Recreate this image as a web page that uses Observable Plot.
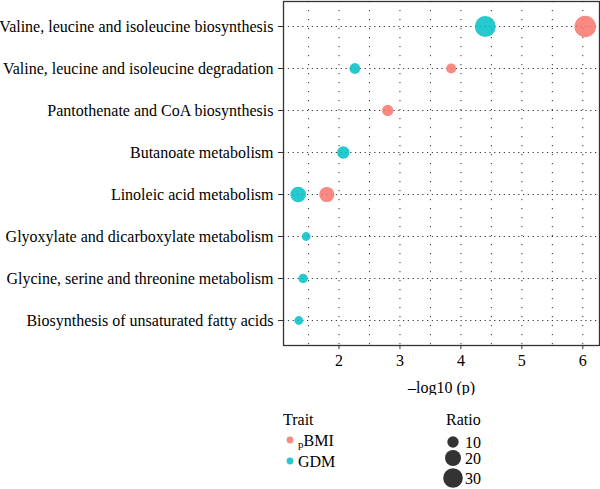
<!DOCTYPE html>
<html><head><meta charset="utf-8">
<script src="https://cdn.jsdelivr.net/npm/d3@7"></script>
<script src="https://cdn.jsdelivr.net/npm/@observablehq/plot@0.6"></script>
<style>
body{margin:0;background:#fff;font-family:"Liberation Serif",serif;}
#chart svg{display:block;}
</style>
</head><body><div id="chart"></div>
<script>
// Pathways, top to bottom
const pathways = [
  "Valine, leucine and isoleucine biosynthesis",
  "Valine, leucine and isoleucine degradation",
  "Pantothenate and CoA biosynthesis",
  "Butanoate metabolism",
  "Linoleic acid metabolism",
  "Glyoxylate and dicarboxylate metabolism",
  "Glycine, serine and threonine metabolism",
  "Biosynthesis of unsaturated fatty acids"
];
// -log10(p) and Ratio per trait (null = not present)
const gdmLogP   = [4.40, 2.26, null, 2.07, 1.33, 1.46, 1.41, 1.34];
const gdmRatio  = [34, 9, null, 12, 19, 6, 7, 6];
const pbmiLogP  = [6.04, 3.84, 2.80, null, 1.80, null, null, null];
const pbmiRatio = [36, 8, 10, null, 18, null, null, null];

const traitNames = ["pBMI", "GDM"];
const traitColors = ["#F8766D", "#00BFC4"];
const xTicks = [2, 3, 4, 5, 6];
const xGrid = [1.5, 2, 2.5, 3, 3.5, 4, 4.5, 5, 5.5, 6];
const ratioLegend = [10, 20, 30];
const xLabel = "–log10 (p)";

const rows = [];
pathways.forEach((p, i) => {
  if (pbmiLogP[i] != null) rows.push({pathway: p, trait: "pBMI", logp: pbmiLogP[i], ratio: pbmiRatio[i]});
  if (gdmLogP[i] != null) rows.push({pathway: p, trait: "GDM", logp: gdmLogP[i], ratio: gdmRatio[i]});
});

const rDomain = [0, 35], rRange = [0, 10.6];

const chart = Plot.plot({
  width: 600, height: 395,
  marginLeft: 283, marginRight: 1, marginTop: 1, marginBottom: 50,
  style: {fontFamily: "Liberation Serif", fontSize: "16px", color: "#000", background: "#fff"},
  x: {domain: [1.089, 6.274]},
  y: {type: "point", domain: pathways, padding: 0.58},
  r: {domain: rDomain, range: rRange},
  color: {domain: traitNames, range: traitColors},
  marks: [
    Plot.ruleY(pathways, {y: d => d, stroke: "#333", strokeWidth: 1, strokeDasharray: "1.2,3.6"}),
    Plot.ruleX(xGrid, {x: d => d, stroke: "#333", strokeWidth: 1, strokeDasharray: "1.2,7.8"}),
    Plot.dot(rows, {x: "logp", y: "pathway", r: "ratio", fill: "trait", fillOpacity: 0.85, stroke: null}),
    Plot.frame({stroke: "#333", strokeWidth: 1.3}),
    Plot.axisX({ticks: xTicks, tickFormat: "d", tickSize: 4, tickPadding: 5, label: null, fontSize: 16, stroke: "#333"}),
    Plot.axisY({tickSize: 5, tickPadding: 5, label: null, fontSize: 16, stroke: "#333"}),
    Plot.text([xLabel], {text: d => d, frameAnchor: "bottom", dy: 42, fontSize: 16, lineAnchor: "middle"})
  ]
});
document.getElementById("chart").appendChild(chart);

// Legend below the plot
const rScale = d3.scaleSqrt().domain(rDomain).range(rRange);
const leg = d3.select("#chart").append("svg")
  .attr("width", 600).attr("height", 94)
  .style("font-family", "Liberation Serif").style("font-size", "16px");

leg.append("text").attr("x", 283).attr("y", 24).attr("dominant-baseline", "central").text("Trait");
const traitY = [45, 66];
traitNames.forEach((t, i) => {
  const cy = traitY[i];
  leg.append("circle").attr("cx", 290).attr("cy", cy).attr("r", 3.4).attr("fill", traitColors[i]).attr("fill-opacity", 0.85);
  const tx = leg.append("text").attr("x", 298).attr("y", cy).attr("dominant-baseline", "central");
  if (t === "pBMI") {
    tx.append("tspan").attr("font-size", "11px").attr("dy", 4).text("p");
    tx.append("tspan").attr("dy", -4).text("BMI");
  } else tx.text(t);
});

leg.append("text").attr("x", 446).attr("y", 24).attr("dominant-baseline", "central").text("Ratio");
const ratioY = [47, 63, 83];
ratioLegend.forEach((v, i) => {
  leg.append("circle").attr("cx", 453).attr("cy", ratioY[i]).attr("r", rScale(v)).attr("fill", "#333");
  leg.append("text").attr("x", 465).attr("y", ratioY[i]).attr("dominant-baseline", "central").text(v);
});
</script>
</body></html>
